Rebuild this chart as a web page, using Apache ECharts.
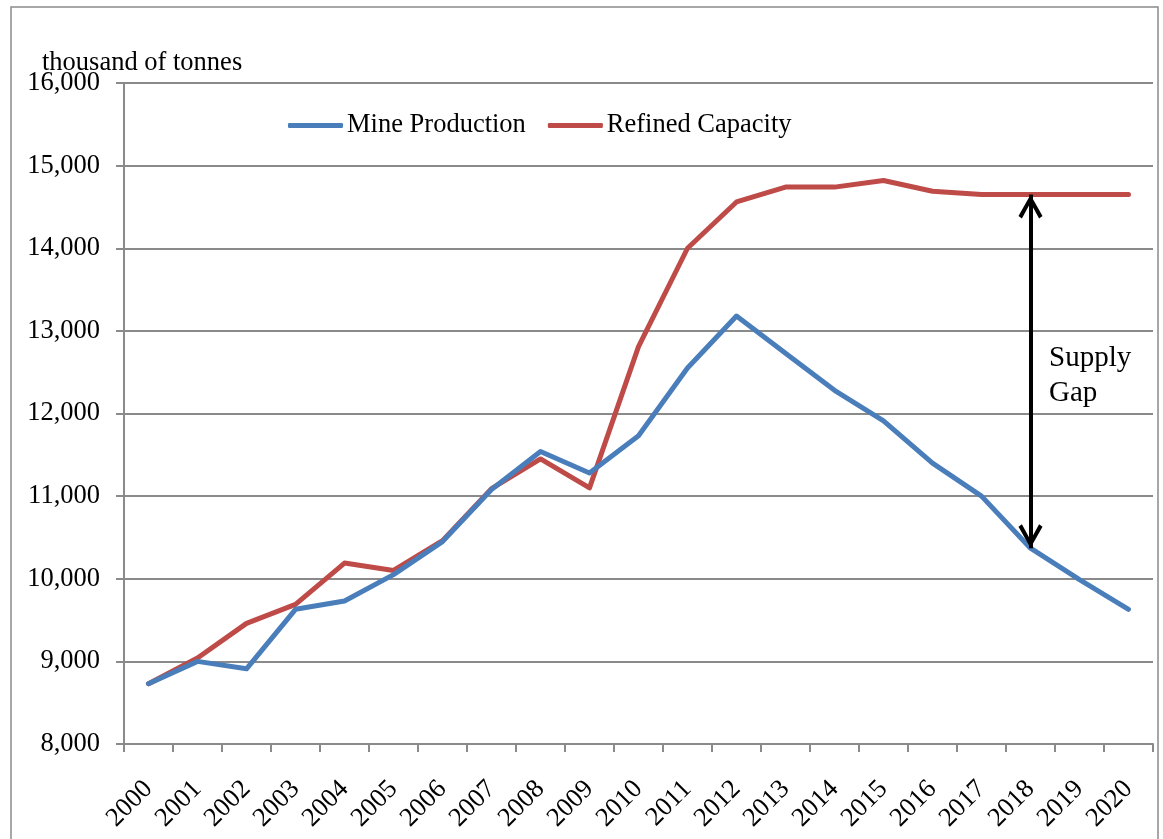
<!DOCTYPE html>
<html>
<head>
<meta charset="utf-8">
<script src="https://cdn.jsdelivr.net/npm/echarts@6/dist/echarts.min.js"></script>
<style>
  html, body { margin: 0; padding: 0; background: #fff; }
  #chart { width: 1163px; height: 839px; }
</style>
</head>
<body>
<div id="chart"></div>
<script>
// Years on the category axis
const years = ['2000','2001','2002','2003','2004','2005','2006','2007','2008','2009','2010',
               '2011','2012','2013','2014','2015','2016','2017','2018','2019','2020'];

// Mine production, thousand tonnes
const mineProduction = [8730, 9000, 8910, 9630, 9730, 10050, 10450, 11080, 11540, 11280, 11730,
                        12550, 13180, 12730, 12280, 11910, 11400, 11000, 10370, 9990, 9630];

// Refined capacity, thousand tonnes
const refinedCapacity = [8730, 9040, 9460, 9690, 10190, 10100, 10460, 11090, 11450, 11100, 12810,
                         14000, 14560, 14740, 14740, 14820, 14690, 14650, 14650, 14650, 14650];

// Value-axis range and step
const yMin = 8000, yMax = 16000, yStep = 1000;

// Supply-gap annotation year
const gapYear = '2018';

const FONT = 'Liberation Serif';
const FS = 26.5;
const GRID_COLOR = '#8a8a8a';

// Open chevron arrow head; the stray move-to puts the tip at the symbol centre
const chevron = 'path://M12,-24 L12,-24 M12,0 L24,21 L20.6,23.6 L12,8 L3.4,23.6 L0,21 Z';

const chart = echarts.init(document.getElementById('chart'), null, { renderer: 'canvas' });

const gapIdx = years.indexOf(gapYear);

chart.setOption({
  animation: false,
  backgroundColor: '#ffffff',
  textStyle: { fontFamily: FONT, color: '#000' },
  title: {
    text: 'thousand of tonnes',
    left: 42,
    top: 50,
    padding: 0,
    textStyle: { fontFamily: FONT, fontSize: FS, fontWeight: 'normal', color: '#000' }
  },
  legend: {
    left: 288,
    top: 112,
    itemWidth: 55,
    itemHeight: 5,
    itemGap: 22,
    padding: 0,
    icon: 'roundRect',
    textStyle: { fontFamily: FONT, fontSize: FS, color: '#000', padding: [2, 0, 0, -1] },
    data: ['Mine Production', 'Refined Capacity']
  },
  grid: { left: 124, right: 10, top: 83, bottom: 95, containLabel: false },
  xAxis: {
    type: 'category',
    data: years,
    boundaryGap: true,
    axisLine: { lineStyle: { color: GRID_COLOR, width: 2 } },
    axisTick: { show: true, length: 8, alignWithLabel: false, lineStyle: { color: GRID_COLOR, width: 2 } },
    axisLabel: { rotate: 45, margin: 41, fontFamily: FONT, fontSize: FS, color: '#000', interval: 0 }
  },
  yAxis: {
    type: 'value',
    min: yMin,
    max: yMax,
    interval: yStep,
    axisLine: { show: true, lineStyle: { color: GRID_COLOR, width: 2 } },
    axisTick: { show: true, length: 8, inside: false, lineStyle: { color: GRID_COLOR, width: 2 } },
    splitLine: { show: true, lineStyle: { color: GRID_COLOR, width: 2 } },
    axisLabel: {
      margin: 24,
      fontFamily: FONT,
      fontSize: FS,
      color: '#000',
      padding: [5, 0, 0, 0],
      formatter: v => v.toLocaleString('en-US')
    }
  },
  series: [
    {
      name: 'Mine Production',
      type: 'line',
      data: mineProduction,
      symbol: 'none',
      z: 3,
      lineStyle: { color: '#4a7ebb', width: 5, cap: 'round', join: 'round' },
      itemStyle: { color: '#4a7ebb' }
    },
    {
      name: 'Refined Capacity',
      type: 'line',
      data: refinedCapacity,
      symbol: 'none',
      z: 2,
      lineStyle: { color: '#be4b48', width: 5, cap: 'round', join: 'round' },
      itemStyle: { color: '#be4b48' },
      markLine: {
        silent: true,
        animation: false,
        symbol: [chevron, chevron],
        symbolSize: [24, 48],
        label: { show: false },
        lineStyle: { color: '#000', width: 4, type: 'solid' },
        emphasis: { disabled: true },
        data: [[
          { coord: [gapYear, refinedCapacity[gapIdx]] },
          { coord: [gapYear, mineProduction[gapIdx]] }
        ]],
        z: 5
      }
    }
  ],
  graphic: [
    {
      type: 'rect',
      shape: { x: 11, y: 7, width: 1147, height: 845 },
      style: { fill: 'none', stroke: GRID_COLOR, lineWidth: 1.5 },
      silent: true
    },
    {
      type: 'text',
      left: 1049,
      top: 341,
      style: {
        text: 'Supply\nGap',
        font: '29px "Liberation Serif"',
        lineHeight: 35,
        fill: '#000'
      },
      silent: true
    }
  ]
});
</script>
</body>
</html>
